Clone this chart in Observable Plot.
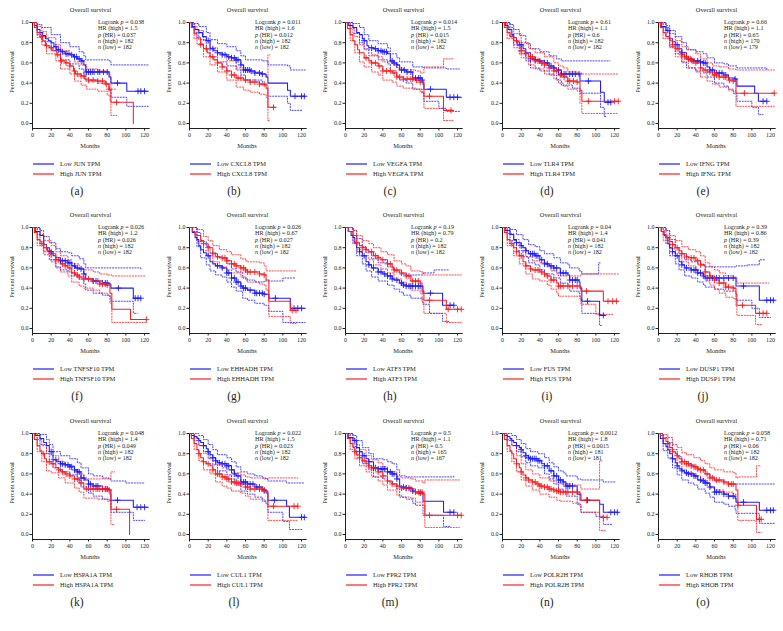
<!DOCTYPE html>
<html><head><meta charset="utf-8">
<script src="https://cdn.jsdelivr.net/npm/d3@7"></script>
<script src="https://cdn.jsdelivr.net/npm/@observablehq/plot@0.6"></script>
<style>
body{margin:0;background:#fff;}
#root{position:relative;width:783px;height:631px;overflow:hidden;font-family:"Liberation Serif","DejaVu Serif",serif;color:#231f20;background:#fff;}
.panel{position:absolute;width:157px;height:205px;}
.panel svg{position:absolute;left:0;top:0;}
.title{position:absolute;top:6px;left:32px;width:117px;text-align:center;font-size:6.4px;white-space:nowrap;}
.stats{position:absolute;left:98px;top:19px;font-size:6.2px;line-height:6.3px;white-space:nowrap;}
.ylab{position:absolute;left:-38px;top:68px;width:100px;text-align:center;font-size:6.4px;line-height:8px;transform:rotate(-90deg);white-space:nowrap;}
.xlab{position:absolute;left:60px;top:142px;width:60px;text-align:center;font-size:6.4px;line-height:8px;white-space:nowrap;}
.leg{position:absolute;left:33px;font-size:6.5px;white-space:nowrap;height:8px;}
.leg svg.sw{position:absolute;left:0;top:0;width:22px;height:8px;overflow:visible;}
.leg span.tx{position:absolute;left:27px;top:0;line-height:8px;}
.lab{position:absolute;top:185px;left:62px;width:30px;text-align:center;font-size:11.5px;}
</style>
</head><body><div id="root"></div>
<script>
const genes = ["JUN","CXCL8","VEGFA","TLR4","IFNG","TNFSF10","EHHADH","ATF3","FUS","DUSP1","HSPA1A","CUL1","FPR2","POLR2H","RHOB"];
const panelLetters = ["a","b","c","d","e","f","g","h","i","j","k","l","m","n","o"];
const logrankP = ["0.038","0.011","0.014","0.61","0.66","0.026","0.026","0.19","0.04","0.39","0.048","0.022","0.5","0.0012","0.058"];
const hrHigh = ["1.5","1.6","1.5","1.1","1.1","1.2","0.67","0.79","1.4","0.86","1.4","1.5","1.1","1.8","0.71"];
const pHR = ["0.037","0.012","0.015","0.6","0.65","0.026","0.027","0.2","0.041","0.39","0.049","0.023","0.5","0.0015","0.06"];
const nHigh = [182,182,182,182,170,182,182,182,182,182,182,182,165,181,182];
const nLow = [182,182,182,182,179,182,182,182,182,182,182,182,167,181,182];
const xTicks = [0,20,40,60,80,100,120];
const yTicks = [0,0.2,0.4,0.6,0.8,1.0];

// Kaplan-Meier curves, flat [month, survival, ...]
const lowCurves = [
 [0,1,2,.97,5,.93,8,.90,11,.87,14,.84,17,.82,20,.80,23,.76,26,.73,30,.71,35,.69,40,.68,44,.66,48,.64,52,.62,55,.58,57,.51,82,.46,84,.40,101,.32,124,.32],
 [0,1,3,.96,6,.93,10,.90,14,.86,18,.82,22,.74,26,.72,30,.70,35,.68,40,.66,45,.65,50,.63,55,.58,58,.53,65,.52,70,.50,78,.49,82,.46,84,.40,105,.33,108,.27,124,.27],
 [0,1,3,.97,8,.95,12,.90,15,.88,18,.84,20,.82,23,.77,25,.75,30,.74,35,.72,40,.71,45,.69,48,.62,52,.60,55,.58,58,.53,65,.51,72,.45,82,.43,83,.39,84,.34,108,.26,124,.26],
 [0,1,3,.97,6,.93,10,.88,12,.85,15,.81,18,.78,22,.74,25,.70,30,.64,35,.63,40,.62,45,.60,50,.57,55,.55,58,.53,63,.49,83,.42,105,.31,109,.21,116,.21],
 [0,1,3,.96,8,.92,12,.84,15,.81,18,.78,22,.74,25,.70,30,.64,35,.63,38,.62,45,.61,48,.60,52,.56,55,.53,60,.50,70,.48,75,.45,82,.44,84,.37,103,.30,107,.22,116,.22],
 [0,1,3,.96,8,.92,12,.83,15,.80,18,.76,22,.72,25,.70,30,.67,38,.65,42,.62,46,.60,50,.59,55,.54,57,.49,65,.47,75,.45,82,.44,84,.40,108,.30,116,.30],
 [0,1,3,.95,6,.90,8,.88,10,.82,12,.78,15,.75,18,.72,22,.66,25,.64,28,.62,35,.60,40,.55,45,.50,50,.46,55,.42,57,.40,62,.38,70,.35,80,.34,85,.30,108,.20,124,.20],
 [0,1,3,.96,6,.92,8,.90,10,.85,12,.80,15,.76,18,.72,22,.66,25,.63,28,.60,35,.56,40,.54,45,.52,50,.49,52,.48,58,.45,62,.43,65,.42,83,.35,104,.23,116,.23],
 [0,1,3,.97,8,.93,12,.88,15,.85,20,.82,22,.80,25,.77,28,.74,35,.72,40,.68,45,.64,50,.62,55,.60,62,.55,70,.53,72,.48,82,.46,83,.40,85,.27,104,.13,110,.13],
 [0,1,3,.96,6,.92,8,.90,10,.84,12,.80,15,.76,18,.72,22,.66,25,.63,28,.60,35,.58,42,.55,48,.52,50,.50,83,.42,108,.28,124,.28],
 [0,1,3,.98,8,.95,12,.91,15,.88,18,.82,22,.74,26,.72,30,.70,35,.69,40,.67,45,.64,48,.62,52,.56,56,.54,60,.50,65,.48,75,.45,82,.44,84,.34,108,.27,124,.27],
 [0,1,2,.98,5,.97,8,.95,10,.93,12,.91,15,.88,18,.85,20,.82,22,.79,25,.76,28,.73,30,.71,35,.70,40,.68,45,.64,48,.60,50,.58,55,.52,62,.50,70,.47,78,.44,82,.41,84,.34,104,.28,107,.17,124,.17],
 [0,1,3,.96,8,.93,12,.86,15,.82,18,.78,22,.75,25,.72,30,.66,35,.65,45,.62,50,.60,55,.55,58,.47,65,.46,72,.43,75,.41,83,.33,105,.22,116,.22],
 [0,1,2,.98,5,.97,8,.95,10,.93,12,.91,15,.88,18,.86,20,.84,22,.81,25,.78,28,.76,30,.75,38,.73,42,.70,45,.68,50,.63,55,.58,60,.54,65,.52,68,.48,78,.48,80,.40,84,.34,104,.30,108,.22,124,.22],
 [0,1,2,.95,5,.90,8,.87,10,.84,12,.80,15,.75,18,.71,20,.68,22,.65,25,.63,28,.61,32,.60,38,.58,42,.54,46,.53,50,.51,55,.47,60,.42,70,.40,75,.38,82,.36,83,.32,108,.24,124,.24]
];
const lowUpper = [
 [0,1,5,.98,10,.95,20,.88,30,.80,40,.76,50,.71,55,.67,57,.63,82,.62,84,.58,124,.58],
 [0,1,5,.99,10,.96,18,.90,22,.83,30,.79,40,.76,50,.72,55,.67,60,.63,78,.62,84,.58,105,.57,108,.53,124,.53],
 [0,1,8,.99,15,.95,20,.88,25,.82,35,.79,45,.75,48,.69,55,.65,58,.61,72,.56,84,.55,108,.54,122,.54],
 [0,1,8,.98,12,.93,18,.87,25,.79,30,.74,40,.71,50,.67,58,.64,63,.62,115,.62],
 [0,1,8,.97,12,.92,18,.86,25,.80,30,.73,40,.71,48,.69,52,.65,60,.60,70,.59,75,.57,84,.55,116,.53],
 [0,1,8,.97,12,.91,18,.85,25,.79,30,.76,38,.75,42,.72,50,.69,55,.64,57,.60,116,.59],
 [0,1,8,.95,12,.86,18,.81,22,.75,28,.71,35,.69,40,.64,45,.59,50,.56,57,.50,62,.48,70,.46,80,.47,100,.50,114,.50],
 [0,1,8,.97,12,.89,18,.81,22,.75,28,.69,35,.65,45,.61,52,.57,58,.54,62,.53,83,.55,95,.58,110,.58],
 [0,1,8,.98,15,.93,22,.88,28,.83,35,.81,40,.77,45,.74,55,.70,62,.65,70,.63,72,.60,82,.57,85,.54,103,.65,106,.65],
 [0,1,8,.97,12,.88,18,.80,22,.74,28,.68,35,.66,42,.64,48,.62,50,.61,83,.62,95,.63,108,.68,115,.68],
 [0,1,8,.99,15,.94,18,.89,22,.82,30,.78,40,.75,48,.71,52,.66,60,.60,65,.58,75,.56,82,.55,84,.53,100,.51,120,.51],
 [0,1,5,1,10,.98,15,.94,20,.89,25,.84,30,.79,40,.76,45,.72,50,.67,55,.62,62,.60,70,.58,78,.56,82,.55,84,.53,104,.51,122,.51],
 [0,1,8,.98,12,.93,18,.86,25,.80,30,.75,40,.74,45,.72,50,.70,55,.64,58,.58,65,.57,116,.58],
 [0,1,5,1,10,.98,15,.94,20,.90,25,.85,30,.82,38,.80,45,.76,50,.71,55,.67,60,.63,65,.61,68,.58,80,.55,84,.54,108,.52,122,.52],
 [0,1,5,.96,10,.91,15,.84,20,.77,25,.72,32,.69,38,.67,42,.64,50,.60,55,.57,60,.53,70,.51,75,.50,124,.50]
];
const lowLower = [
 [0,1,5,.88,10,.81,20,.72,30,.63,40,.59,50,.54,55,.49,57,.42,70,.40,82,.33,84,.26,101,.17,124,.17],
 [0,1,5,.90,10,.83,18,.74,22,.66,30,.61,40,.57,50,.53,55,.48,60,.43,78,.38,84,.27,105,.20,108,.13,120,.13],
 [0,1,8,.89,15,.80,20,.74,25,.67,35,.63,45,.59,48,.52,55,.47,58,.43,65,.40,72,.34,82,.30,84,.22,100,.15,108,.12,122,.12],
 [0,1,8,.87,12,.78,18,.69,25,.62,30,.55,40,.52,50,.48,58,.43,63,.38,75,.35,83,.30,105,.16,109,.07,112,.07],
 [0,1,8,.86,12,.76,18,.69,25,.61,30,.55,40,.52,48,.50,52,.46,60,.40,70,.37,75,.34,80,.30,84,.22,100,.16,107,.09,112,.09],
 [0,1,8,.86,12,.76,18,.68,25,.61,30,.58,38,.56,42,.52,50,.49,55,.44,57,.38,65,.35,75,.33,82,.32,84,.27,108,.15,112,.15],
 [0,1,8,.81,12,.70,18,.63,22,.57,28,.53,35,.51,40,.46,45,.41,50,.37,57,.30,62,.28,70,.25,80,.23,85,.17,100,.06,124,.06],
 [0,1,8,.84,12,.72,18,.64,22,.57,28,.51,35,.47,45,.43,52,.39,58,.36,62,.33,70,.30,83,.24,90,.15,104,.07,112,.07],
 [0,1,8,.87,15,.77,22,.71,28,.65,35,.63,40,.58,45,.54,55,.50,62,.45,70,.43,72,.37,82,.35,83,.29,85,.15,104,.03,106,.03],
 [0,1,8,.84,12,.72,18,.64,22,.58,28,.52,35,.50,42,.46,48,.43,50,.41,60,.39,70,.37,83,.28,100,.20,108,.11,120,.11],
 [0,1,8,.89,15,.80,18,.74,22,.66,30,.62,40,.59,48,.54,52,.47,60,.41,65,.38,75,.35,82,.34,84,.22,108,.14,120,.14],
 [0,1,5,.93,10,.88,15,.82,20,.75,25,.69,30,.63,40,.59,45,.55,50,.49,55,.43,62,.40,70,.37,78,.33,82,.30,84,.22,100,.13,107,.05,122,.05],
 [0,1,8,.87,12,.78,18,.70,25,.64,30,.57,40,.55,45,.52,50,.50,55,.45,58,.37,65,.35,72,.31,75,.29,83,.19,105,.08,112,.08],
 [0,1,5,.93,10,.88,15,.82,20,.77,25,.71,30,.68,38,.66,45,.60,50,.55,55,.50,60,.45,65,.43,68,.38,80,.30,84,.22,100,.18,108,.10,118,.10],
 [0,1,5,.83,10,.76,15,.66,20,.59,25,.54,32,.51,38,.49,42,.45,50,.41,55,.37,60,.32,70,.30,75,.28,82,.25,83,.21,108,.11,124,.11]
];
const highCurves = [
 [0,1,2,.95,5,.90,8,.86,11,.82,14,.77,18,.75,22,.72,26,.68,30,.62,35,.60,40,.57,44,.52,46,.49,52,.47,56,.44,60,.43,70,.42,78,.39,82,.34,84,.21,108,0],
 [0,1,2,.95,5,.89,8,.85,12,.78,15,.74,19,.70,22,.66,26,.63,30,.60,35,.56,40,.52,45,.48,50,.45,58,.43,65,.41,75,.39,82,.35,84,.16,92,.16],
 [0,1,2,.94,5,.88,8,.82,10,.78,13,.73,15,.70,20,.65,25,.62,28,.60,35,.57,40,.52,50,.50,55,.46,62,.44,75,.43,80,.41,84,.27,105,.13,115,.13],
 [0,1,2,.95,5,.90,8,.86,12,.82,16,.77,20,.72,24,.69,28,.66,35,.62,40,.60,45,.58,50,.55,55,.52,60,.48,65,.46,70,.42,80,.41,83,.33,85,.22,124,.22],
 [0,1,2,.95,5,.90,8,.86,12,.82,15,.78,18,.74,22,.71,25,.68,28,.66,32,.64,36,.62,40,.60,45,.55,48,.53,52,.51,58,.48,65,.46,75,.43,80,.42,83,.30,124,.30],
 [0,1,2,.95,5,.88,8,.84,12,.80,16,.77,20,.74,25,.68,30,.64,35,.62,38,.60,42,.55,46,.53,50,.51,55,.49,65,.47,72,.44,80,.43,83,.35,85,.19,105,.09,122,.09],
 [0,1,3,.96,6,.93,8,.92,12,.87,15,.84,20,.80,25,.74,30,.71,32,.70,40,.67,45,.64,50,.62,55,.60,60,.58,62,.56,75,.54,80,.53,82,.48,85,.27,108,.18,114,.18],
 [0,1,3,.96,8,.92,12,.85,15,.82,18,.80,22,.78,25,.76,30,.72,35,.70,38,.68,45,.64,50,.60,52,.58,60,.55,65,.52,70,.47,80,.45,82,.37,84,.28,108,.19,124,.19],
 [0,1,2,.95,5,.88,8,.84,12,.80,15,.76,18,.72,22,.66,25,.62,30,.59,32,.58,40,.56,45,.54,48,.52,52,.48,58,.45,60,.42,84,.37,108,.27,124,.27],
 [0,1,3,.96,5,.93,8,.90,12,.86,15,.83,18,.80,22,.77,25,.74,30,.71,32,.70,40,.67,45,.63,50,.56,55,.52,60,.48,65,.45,72,.41,80,.40,83,.34,84,.23,104,.15,116,.15],
 [0,1,2,.94,5,.88,8,.83,10,.80,13,.75,15,.72,20,.70,25,.66,28,.64,32,.62,35,.60,40,.58,45,.55,50,.51,55,.45,82,.44,83,.40,84,.25,104,0],
 [0,1,2,.95,5,.90,8,.84,10,.80,12,.76,15,.72,18,.70,22,.68,25,.64,28,.60,35,.57,40,.55,45,.52,50,.51,55,.50,60,.47,65,.45,80,.43,84,.28,116,.28],
 [0,1,2,.95,5,.90,8,.86,10,.82,12,.79,15,.76,18,.73,22,.70,25,.68,28,.66,35,.62,40,.58,45,.53,50,.50,55,.48,60,.46,70,.45,75,.42,83,.40,85,.19,124,.19],
 [0,1,2,.94,5,.88,8,.83,10,.80,12,.75,15,.70,18,.66,20,.62,22,.59,25,.56,28,.54,32,.52,36,.50,40,.48,45,.47,50,.45,55,.44,58,.43,62,.42,83,.34,104,.17,112,.17],
 [0,1,2,.98,5,.95,8,.92,10,.90,12,.86,15,.82,18,.80,20,.78,22,.75,25,.72,30,.70,35,.68,38,.67,42,.65,45,.64,50,.60,55,.56,60,.54,70,.52,75,.50,80,.50,83,.44,85,.29,105,.15,110,.15]
];
const highUpper = [
 [0,1,5,.96,10,.91,15,.85,25,.78,30,.72,40,.68,45,.61,52,.58,58,.54,70,.52,80,.49,83,.46,84,.34,90,.34],
 [0,1,5,.96,8,.92,15,.82,22,.75,30,.69,40,.62,50,.55,58,.53,65,.51,75,.49,82,.46,84,.68,86,.68],
 [0,1,5,.94,10,.86,15,.78,20,.73,28,.68,35,.66,40,.61,50,.59,55,.55,62,.53,75,.52,80,.50,84,.56,105,.64,115,.64],
 [0,1,5,.95,12,.89,20,.80,28,.74,35,.70,45,.66,55,.60,60,.57,65,.55,70,.51,80,.50,85,.49,124,.49],
 [0,1,5,.95,12,.89,18,.82,25,.76,32,.73,40,.69,45,.64,52,.60,58,.57,65,.56,75,.54,83,.53,124,.53],
 [0,1,5,.93,12,.87,20,.82,25,.76,30,.72,38,.68,42,.64,50,.60,55,.58,65,.56,72,.54,80,.53,85,.52,122,.52],
 [0,1,8,.98,15,.91,20,.87,25,.82,32,.78,40,.76,45,.73,55,.69,60,.67,62,.66,75,.65,80,.62,82,.57,114,.57],
 [0,1,8,.97,12,.92,18,.87,25,.84,30,.80,38,.76,45,.73,52,.67,60,.64,65,.62,70,.57,80,.56,84,.53,124,.53],
 [0,1,5,.94,12,.88,18,.80,25,.71,32,.67,40,.65,48,.61,52,.57,58,.54,60,.52,84,.54,124,.54],
 [0,1,5,.97,12,.92,18,.87,25,.81,32,.78,40,.76,45,.72,50,.65,55,.61,60,.58,65,.55,72,.52,80,.51,84,.45,118,.45],
 [0,1,5,.94,10,.88,15,.80,20,.78,28,.72,35,.68,45,.64,50,.60,55,.55,80,.55,84,.62,88,.62],
 [0,1,5,.96,10,.88,15,.80,22,.76,28,.69,35,.66,40,.64,45,.61,55,.59,60,.57,65,.56,80,.55,84,.56,116,.56],
 [0,1,5,.95,10,.89,15,.84,22,.78,28,.74,35,.71,40,.67,45,.62,55,.57,60,.56,70,.55,75,.53,83,.51,85,.54,122,.54],
 [0,1,5,.94,10,.88,15,.78,20,.70,25,.64,32,.60,40,.56,50,.53,58,.51,62,.50,75,.49,84,.45,104,.73,108,.73],
 [0,1,5,.99,10,.96,15,.89,20,.86,25,.81,30,.79,38,.76,45,.73,50,.70,55,.66,60,.64,70,.62,80,.61,83,.56,85,.57,105,.68,110,.68]
];
const highLower = [
 [0,1,5,.85,10,.78,15,.69,25,.62,30,.54,40,.49,45,.42,52,.38,58,.34,70,.32,80,.28,83,.23,84,.08,90,.08],
 [0,1,5,.84,8,.79,15,.66,22,.58,30,.51,40,.43,50,.36,58,.33,65,.31,75,.29,82,.26,84,.03,86,.03],
 [0,1,5,.82,10,.70,15,.61,20,.56,28,.51,35,.48,40,.43,50,.41,55,.37,62,.35,75,.34,80,.31,84,.15,105,.03,115,.03],
 [0,1,5,.84,12,.75,20,.65,28,.58,35,.54,45,.49,55,.44,60,.40,65,.37,70,.34,80,.32,83,.20,85,.10,124,.10],
 [0,1,5,.84,12,.75,18,.66,25,.60,32,.55,40,.51,45,.46,52,.42,58,.39,65,.36,75,.33,80,.32,83,.17,124,.17],
 [0,1,5,.82,12,.73,20,.66,25,.60,30,.56,38,.52,42,.46,50,.42,55,.40,65,.38,72,.35,80,.33,83,.25,85,.06,122,.06],
 [0,1,8,.86,15,.77,20,.72,25,.66,32,.61,40,.58,45,.55,55,.51,60,.48,62,.46,75,.44,80,.43,82,.38,85,.12,108,.05,114,.05],
 [0,1,8,.86,12,.78,18,.72,25,.68,30,.63,38,.59,45,.55,52,.49,60,.46,65,.43,70,.38,80,.35,82,.26,84,.15,108,.06,124,.06],
 [0,1,5,.82,12,.72,18,.64,25,.54,32,.49,40,.47,48,.43,52,.39,58,.35,60,.32,84,.24,100,.14,118,.14],
 [0,1,5,.87,12,.79,18,.72,25,.66,32,.62,40,.58,45,.54,50,.47,55,.43,60,.39,65,.35,72,.31,80,.30,83,.22,84,.13,104,.04,110,.04],
 [0,1,5,.82,10,.72,15,.63,20,.61,28,.56,35,.51,45,.46,50,.42,55,.36,70,.35,80,.33,84,.10,88,.10],
 [0,1,5,.84,10,.73,15,.64,22,.60,28,.52,35,.48,40,.46,45,.43,55,.41,60,.38,65,.35,80,.33,84,.14,116,.14],
 [0,1,5,.84,10,.75,15,.68,22,.62,28,.57,35,.53,40,.49,45,.44,55,.39,60,.37,70,.36,75,.32,83,.29,85,.07,122,.07],
 [0,1,5,.82,10,.72,15,.62,20,.54,25,.48,32,.44,40,.40,50,.37,58,.34,62,.33,75,.31,83,.28,84,.22,104,.04,110,.04],
 [0,1,5,.90,10,.84,15,.75,20,.71,25,.64,30,.61,38,.58,45,.55,50,.51,55,.46,60,.44,70,.42,80,.40,83,.33,85,.14,105,.02,110,.02]
];
// censoring times (months)
const lowCensor = [
 [25,28,32,36,38,42,45,47,50,53,58,60,62,64,66,70,72,76,80,91,113,116,120],
 [20,25,30,35,38,42,45,48,50,52,55,58,60,62,64,66,70,75,78,113,120,123],
 [20,28,32,35,38,40,42,44,50,52,55,60,63,66,70,75,78,80,82,91,112,116,120],
 [20,30,35,40,45,48,52,55,60,63,66,68,72,75,78,82,92,113,116],
 [10,20,25,32,35,38,42,45,48,50,55,58,62,65,68,72,82,112,116],
 [20,30,32,35,38,40,45,48,52,55,65,68,75,78,80,92,110,113,116],
 [20,30,35,40,42,45,48,50,52,55,58,60,65,70,72,75,78,80,92,112,116,120],
 [15,20,25,30,35,38,42,45,48,50,55,60,62,65,68,70,72,75,78,80,91,112,116],
 [15,20,25,30,32,34,36,38,42,45,48,52,55,58,62,65,68,72,75,78,80,91,108],
 [15,20,25,30,35,38,40,42,45,48,52,55,58,62,65,70,75,80,91,116,120,123],
 [20,25,30,32,35,38,40,42,45,48,50,52,55,60,62,65,68,70,75,78,80,91,112,116,120],
 [15,20,25,28,32,35,38,40,42,45,48,52,55,58,60,62,65,68,72,75,80,91,120,123],
 [10,15,20,25,30,32,35,38,40,42,45,48,50,52,55,62,65,68,72,80,112,116],
 [15,20,25,28,30,32,34,36,38,40,45,48,52,55,58,60,62,65,68,70,72,75,91,116,120,123],
 [15,20,25,30,32,35,38,40,45,48,50,52,55,60,62,65,70,75,80,91,116,120,123]
];
const highCensor = [
 [10,15,20,27,31,36,40,45,48,52,55,60,65,70,75,79,82,90],
 [12,18,25,30,35,40,45,48,52,55,60,65,70,75,80,90],
 [22,28,32,36,40,44,48,52,55,58,62,66,70,72,76,80,90,113],
 [15,20,25,30,32,35,38,42,45,50,55,58,62,66,70,72,76,80,92,120,124],
 [15,20,25,28,30,32,34,36,40,45,50,55,60,62,65,70,72,76,80,92,124],
 [10,15,20,25,28,32,35,40,45,48,50,55,60,65,70,72,75,78,80,122],
 [15,20,25,30,35,38,40,45,48,50,55,58,60,62,65,70,75,80,110,114],
 [12,18,22,28,32,35,40,45,48,52,55,60,65,68,72,75,78,90,110,120,124],
 [10,15,20,25,30,35,38,42,45,48,52,55,60,62,65,70,75,80,90,113,118,122],
 [10,15,20,25,30,35,38,42,45,50,55,60,65,70,72,75,80,90,112,116],
 [12,18,22,28,32,36,40,45,48,52,58,62,65,68,70,72,75,78,80,82,90],
 [10,15,20,25,30,32,35,38,40,42,45,48,50,52,55,60,62,65,70,75,78,80,90,112,116],
 [10,15,20,25,28,32,35,40,45,50,55,60,65,70,75,78,80,82,90,120,124],
 [15,20,25,28,32,35,38,40,42,45,48,50,52,55,58,60,62,65,68,70,75,80,90,108,112],
 [10,15,20,25,28,30,32,35,38,40,42,45,48,52,55,58,62,65,70,75,78,80,85,108,110]
];

const BLUE = "#1c1cff", RED = "#ff1c1c";
const pts = a => { const r = []; for (let i = 0; i < a.length; i += 2) r.push({t: a[i], s: a[i+1]}); return r; };
const survAt = (a, t) => { let s = a[1]; for (let i = 0; i < a.length; i += 2) { if (a[i] <= t) s = a[i+1]; else break; } return s; };

const root = document.getElementById("root");
const colW = 156.6, rowH = 205.3;

genes.forEach((g, i) => {
  const col = i % 5, row = Math.floor(i / 5);
  const div = document.createElement("div");
  div.className = "panel";
  div.style.left = Math.round(col * colW) + "px";
  div.style.top = Math.round(row * rowH) + "px";
  root.appendChild(div);

  const cen = (c, a) => c.map(t => ({t, s: survAt(a, t)}));
  const dash = {x: "t", y: "s", curve: "step-after", strokeWidth: 0.8, strokeDasharray: "1.2,1.6"};
  const solid = {x: "t", y: "s", curve: "step-after", strokeWidth: 1.05};
  const svg = Plot.plot({
    width: 157, height: 150,
    marginLeft: 32, marginRight: 8.3, marginTop: 22, marginBottom: 22,
    style: {fontFamily: '"Liberation Serif","DejaVu Serif",serif', fontSize: "6px", color: "#231f20", background: "transparent", overflow: "visible"},
    x: {domain: [0, 125], ticks: xTicks, tickSize: 2.5, tickPadding: 1.5, label: null, line: true},
    y: {domain: [0, 1], ticks: yTicks, tickFormat: ".1f", tickSize: 2.5, tickPadding: 1.5, insetBottom: 5, label: null, line: true},
    marks: [
      Plot.line(pts(lowUpper[i]), {...dash, stroke: BLUE}),
      Plot.line(pts(lowLower[i]), {...dash, stroke: BLUE}),
      Plot.line(pts(highUpper[i]), {...dash, stroke: RED}),
      Plot.line(pts(highLower[i]), {...dash, stroke: RED}),
      Plot.line(pts(lowCurves[i]), {...solid, stroke: BLUE}),
      Plot.line(pts(highCurves[i]), {...solid, stroke: RED}),
      Plot.dot(cen(lowCensor[i], lowCurves[i]), {x: "t", y: "s", symbol: "plus", r: 2.1, stroke: BLUE, strokeWidth: 0.9}),
      Plot.dot(cen(highCensor[i], highCurves[i]), {x: "t", y: "s", symbol: "plus", r: 2.1, stroke: RED, strokeWidth: 0.9})
    ]
  });
  div.appendChild(svg);

  const add = (cls, html) => { const e = document.createElement("div"); e.className = cls; e.innerHTML = html; div.appendChild(e); return e; };
  add("title", "Overall survival");
  add("ylab", "Percent survival");
  add("xlab", "Months");
  add("stats", `Logrank <i>p</i> = ${logrankP[i]}<br>HR (high) = ${hrHigh[i]}<br><i>p</i> (HR) = ${pHR[i]}<br><i>n</i> (high) = ${nHigh[i]}<br><i>n</i> (low) = ${nLow[i]}`);
  [["Low", BLUE, 160], ["High", RED, 170]].forEach(([lvl, c, y]) => {
    const l = add("leg", `<svg class="sw" width="22" height="8"><line x1="0" x2="21" y1="4" y2="4" stroke="${c}" stroke-width="1.2"/></svg><span class="tx">${lvl} ${g} TPM</span>`);
    l.style.top = y + "px";
  });
  add("lab", `(${panelLetters[i]})`);
});
</script>
</body></html>
